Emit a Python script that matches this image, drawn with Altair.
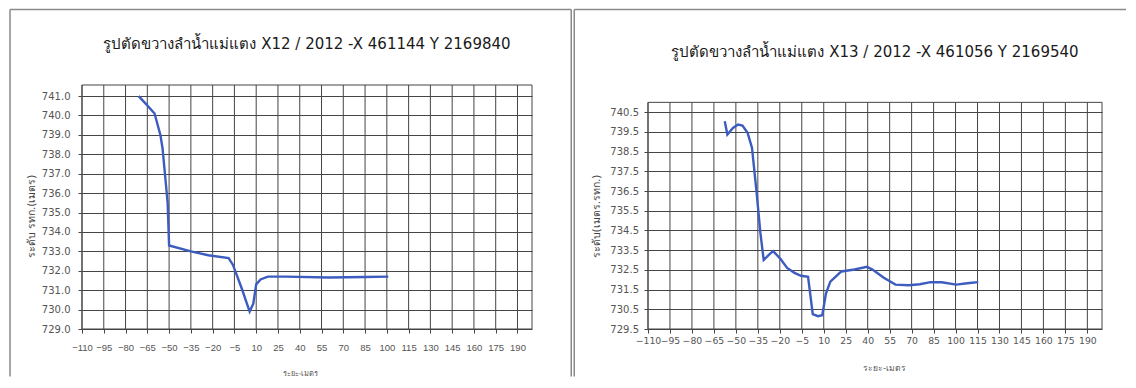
import altair as alt
import pandas as pd

# ---------------- data ----------------
left_title = "รูปตัดขวางลำน้ำแม่แตง X12 / 2012 -X 461144 Y 2169840"
right_title = "รูปตัดขวางลำน้ำแม่แตง X13 / 2012 -X 461056 Y 2169540"
left_ytitle = "ระดับ รทก.(เมตร)"
right_ytitle = "ระดับ(เมตร.รทก.)"
xtitle = "ระยะ-เมตร"

x_ticks = [-110, -95, -80, -65, -50, -35, -20, -5, 10, 25, 40, 55, 70, 85, 100,
           115, 130, 145, 160, 175, 190]
left_yticks = [729.0, 730.0, 731.0, 732.0, 733.0, 734.0, 735.0, 736.0, 737.0,
               738.0, 739.0, 740.0, 741.0]
right_yticks = [729.5, 730.5, 731.5, 732.5, 733.5, 734.5, 735.5, 736.5, 737.5,
                738.5, 739.5, 740.5]

left_dist = [-71, -66, -60, -56, -54.5, -51, -50, -35, -23, -9, -6, 0, 5.5, 8, 10,
             13, 18, 30, 60, 85, 101]
left_elev = [741.0, 740.6, 740.1, 739.0, 738.3, 735.5, 733.3, 733.0, 732.8, 732.65,
             732.3, 731.1, 729.9, 730.3, 731.3, 731.55, 731.7, 731.7, 731.65, 731.68,
             731.7]

right_dist = [-57.6, -55.8, -52, -48.5, -45.5, -42, -39, -35.8, -33.3, -31, -27,
              -24.5, -19.5, -15, -10, -5.5, -0.7, 2.5, 6, 9, 11.5, 14.5, 22, 31,
              39.5, 43.5, 51, 59, 68, 75.5, 83, 90.5, 100.5, 108, 115.5]
right_elev = [740.04, 739.37, 739.7, 739.87, 739.82, 739.45, 738.7, 736.4, 734.4,
              733.0, 733.3, 733.45, 733.05, 732.6, 732.35, 732.2, 732.15, 730.25,
              730.15, 730.2, 731.3, 731.9, 732.42, 732.52, 732.66, 732.5, 732.1,
              731.75, 731.72, 731.77, 731.88, 731.87, 731.75, 731.82, 731.88]

left_xdomain = [-110, 200]
left_ydomain = [729.0, 741.57]
right_xdomain = [-110, 200]
right_ydomain = [729.5, 741.88]
right_frame_top = 741.0

FONT = "DejaVu Sans"
NARROW = "Liberation Sans"
GRID = "#454545"
LINE = "#3c5cbf"
BORDER = "#8a8a8a"


def panel(dist, elev, yticks, xdom, ydom, frame_top, title, title_offset,
          ytitle, ytitle_x, ytitle_size, xtitle_x, xtitle_y, xtitle_size, width,
          x_label_font, x_label_size, x_label_pad, y_label_pad, left_edge,
          right_edge, top_x2):
    df = pd.DataFrame({"d": dist, "e": elev})
    gx = pd.DataFrame({"g": x_ticks})
    one = pd.DataFrame({"a": [0]})

    xscale = alt.Scale(domain=xdom, nice=False, zero=False)
    yscale = alt.Scale(domain=ydom, nice=False, zero=False)

    xaxis = alt.Axis(values=x_ticks, format="d", grid=False, domain=False,
                     tickSize=4, tickColor=GRID, labelFont=x_label_font,
                     labelFontSize=x_label_size, labelColor="#555",
                     labelPadding=x_label_pad, labelFlush=False,
                     labelOverlap=False, title=xtitle, titleFont=FONT,
                     titleFontSize=xtitle_size, titleColor="#555",
                     titleFontWeight="normal", titleX=xtitle_x, titleY=xtitle_y,
                     titleBaseline="middle", titleAlign="center")
    yaxis = alt.Axis(values=yticks, format=".1f", grid=True, gridColor=GRID,
                     gridWidth=1, domain=False, tickSize=4, tickColor=GRID,
                     labelFont=FONT, labelFontSize=10, labelColor="#555",
                     labelPadding=y_label_pad, labelOverlap=False, title=ytitle,
                     titleFont=FONT, titleFontSize=ytitle_size, titleColor="#444",
                     titleFontWeight="normal", titleAngle=270, titleX=ytitle_x,
                     titleY=131, titleAlign="center", titleBaseline="middle")

    vgrid = alt.Chart(gx).mark_rule(color=GRID, strokeWidth=1).encode(
        x=alt.X("g:Q", scale=xscale, axis=xaxis),
        y=alt.datum(ydom[0], scale=yscale, axis=yaxis),
        y2=alt.datum(frame_top),
    )
    frame = alt.Chart(one).mark_rect(fillOpacity=0, stroke=GRID,
                                     strokeWidth=1).encode(
        x=alt.datum(xdom[0], axis=xaxis), x2=alt.datum(xdom[1]),
        y=alt.datum(ydom[0], axis=yaxis), y2=alt.datum(frame_top),
    )
    line = alt.Chart(df).mark_line(color=LINE, strokeWidth=2.4).encode(
        x=alt.X("d:Q", axis=xaxis), y=alt.Y("e:Q", axis=yaxis),
        order=alt.Order("d:Q"))

    b_left = alt.Chart(one).mark_rule(color=BORDER, strokeWidth=1.5).encode(
        x=alt.value(left_edge), y=alt.value(-75.5), y2=alt.value(291.5))
    b_top = alt.Chart(one).mark_rule(color=BORDER, strokeWidth=1.5).encode(
        x=alt.value(left_edge), x2=alt.value(top_x2), y=alt.value(-75.5))
    layers = [vgrid, frame, line, b_left, b_top]
    if right_edge is not None:
        b_right = alt.Chart(one).mark_rule(color=BORDER, strokeWidth=1.5).encode(
            x=alt.value(right_edge), y=alt.value(-75.5), y2=alt.value(291.5))
        layers.append(b_right)

    return alt.layer(*layers).properties(
        width=width, height=244,
        title=alt.Title(title, font=FONT, fontSize=15, fontWeight="normal",
                        color="#1a1a1a", anchor="middle", frame="group",
                        baseline="bottom", offset=title_offset),
    )


left = panel(left_dist, left_elev, left_yticks, left_xdomain, left_ydomain,
             left_ydomain[1], left_title, -58.5, left_ytitle, -50.5, 10.5,
             218, 44.75, 7.5, 450, NARROW, 9.5, 9, 8, -72, 489.25, 489.25)
right = panel(right_dist, right_elev, right_yticks, right_xdomain, right_ydomain,
              right_frame_top, right_title, -66.5, right_ytitle, -52, 10.5,
              236, 38.5, 8.5, 454, FONT, 9.3, 3, 5.5, -73.75, None, 478)

chart = alt.hconcat(left, right, spacing=116, bounds="flush").properties(
    padding=0, background="white"
).configure_view(stroke="transparent").configure_axis(
    labelOverlap=False, labelFlush=False
)

chart.save("out.html", embed_options={"renderer": "svg", "actions": False})
